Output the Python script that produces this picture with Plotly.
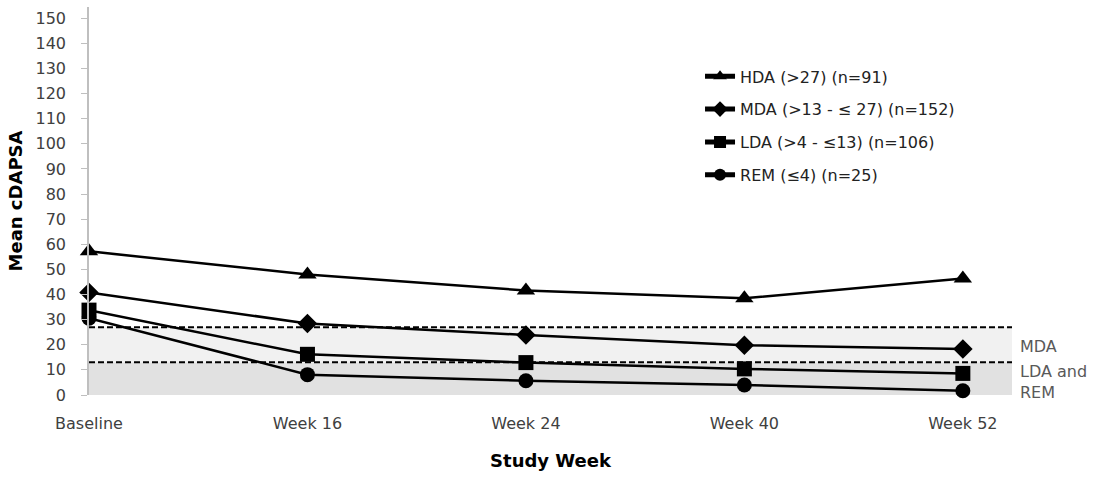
import plotly.graph_objects as go

weeks = ["Baseline", "Week 16", "Week 24", "Week 40", "Week 52"]
hda = [57.2, 48.0, 41.6, 38.5, 46.4]
mda = [40.8, 28.5, 23.9, 19.8, 18.3]
lda = [33.8, 16.2, 12.9, 10.4, 8.6]
rem = [30.6, 8.1, 5.7, 4.0, 1.7]

series_names = ["HDA (>27) (n=91)", "MDA (>13 - \u2264 27) (n=152)",
                "LDA (>4 - \u226413) (n=106)", "REM (\u22644) (n=25)"]
series_values = [hda, mda, lda, rem]
symbols = ["triangle-up", "diamond", "square", "circle"]
sizes = [16, 15, 15, 15]

mda_threshold = 27
lda_threshold = 13
y_ticks = list(range(0, 151, 10))

FONT = "DejaVu Sans"
x_idx = list(range(len(weeks)))

fig = go.Figure()
for i, (name, vals) in enumerate(zip(series_names, series_values)):
    fig.add_trace(go.Scatter(
        x=x_idx, y=vals, mode="lines+markers", name=name,
        legendgroup=f"g{i}",
        line=dict(color="black", width=2.5),
        marker=dict(symbol=symbols[i], size=sizes[i], color="black"),
        cliponaxis=False,
    ))

# shaded bands
fig.add_shape(type="rect", xref="paper", x0=0, x1=1, yref="y", y0=0, y1=lda_threshold,
              fillcolor="#e1e1e1", line_width=0, layer="below")
fig.add_shape(type="rect", xref="paper", x0=0, x1=1, yref="y", y0=lda_threshold, y1=mda_threshold,
              fillcolor="#f1f1f1", line_width=0, layer="below")
for t in [mda_threshold, lda_threshold]:
    fig.add_shape(type="line", xref="paper", x0=0, x1=1, yref="y", y0=t, y1=t,
                  line=dict(color="black", width=2, dash="6px,3px"), layer="below")

fig.add_annotation(xref="paper", x=1.007, yref="y", y=19.5, text="MDA", showarrow=False,
                   xanchor="left", font=dict(family=FONT, size=16, color="#595959"))
fig.add_annotation(xref="paper", x=1.007, yref="y", y=5.0, text="LDA and<br>REM", showarrow=False,
                   xanchor="left", align="left", font=dict(family=FONT, size=16, color="#595959"))

fig.update_layout(
    width=1102, height=481,
    margin=dict(l=89, r=90, t=7, b=86),
    plot_bgcolor="white", paper_bgcolor="white",
    font=dict(family=FONT, size=16, color="#404040"),
    showlegend=True,
    legend=dict(x=0.662, y=0.865, xanchor="left", yanchor="top",
                font=dict(family=FONT, size=16, color="#222222"),
                tracegroupgap=9, itemsizing="constant", bgcolor="rgba(0,0,0,0)"),
    xaxis=dict(tickmode="array", tickvals=x_idx, ticktext=weeks,
               range=[0, 4.225], showgrid=False, zeroline=False,
               showline=False, ticks="", ticklabelstandoff=17,
               tickfont=dict(family=FONT, size=16, color="#404040"),
               title=dict(text="<b>Study Week</b>", font=dict(family=FONT, size=18, color="black"),
                          standoff=22)),
    yaxis=dict(range=[0, 154.5], tickvals=y_ticks, showgrid=False, zeroline=False,
               showline=True, linecolor="#bfbfbf", linewidth=1.5,
               ticks="outside", ticklen=6, tickcolor="#bfbfbf", ticklabelstandoff=12,
               tickfont=dict(family=FONT, size=16, color="#404040"),
               title=dict(text="<b>Mean cDAPSA</b>", font=dict(family=FONT, size=18, color="black"),
                          standoff=8)),
)

fig.write_html("out.html")
